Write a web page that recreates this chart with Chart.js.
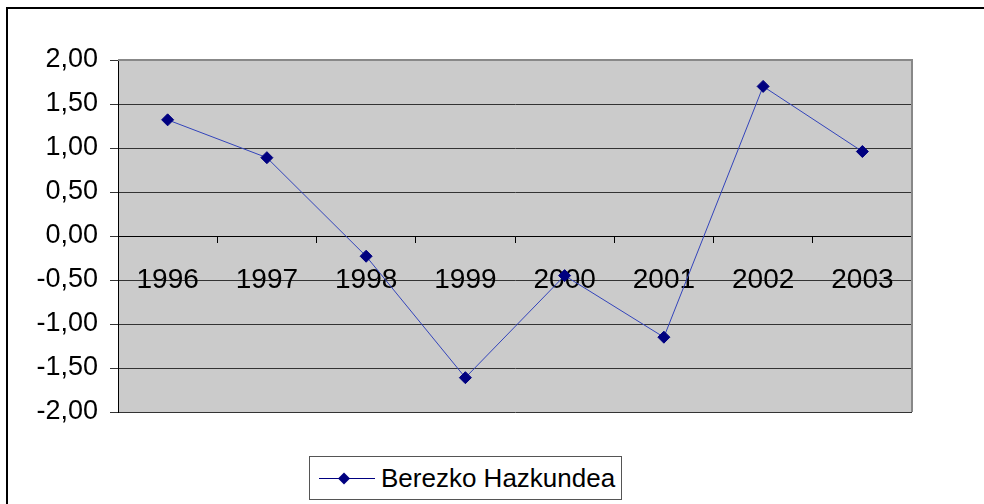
<!DOCTYPE html>
<html>
<head>
<meta charset="utf-8">
<script src="https://cdn.jsdelivr.net/npm/chart.js@4"></script>
<style>
  html, body { margin: 0; padding: 0; background: #fff; }
  #wrap { position: relative; width: 984px; height: 504px; overflow: hidden; }
  #c { position: absolute; left: 0; top: 0; }
  #legend { position: absolute; left: 309px; top: 456px; width: 313px; height: 44px;
    border: 1px solid #555; box-sizing: border-box; background: #fff;
    font-family: Arial, "Liberation Sans", sans-serif; font-size: 26px; color: #000;
    display: flex; align-items: center; }
  #legend canvas { margin-left: 9px; margin-right: 6px; }
</style>
</head>
<body>
<div id="wrap">
  <canvas id="c" width="984" height="504"></canvas>
  <div id="legend"><canvas id="lg" width="56" height="14"></canvas><span id="lgtext"></span></div>
</div>
<script>
const categories = ["1996", "1997", "1998", "1999", "2000", "2001", "2002", "2003"];
const seriesName = "Berezko Hazkundea";
const seriesValues = [1.32, 0.89, -0.23, -1.61, -0.45, -1.15, 1.70, 0.96];
const yTicks = [-2, -1.5, -1, -0.5, 0, 0.5, 1, 1.5, 2];

const FAMILY = 'Arial, "Liberation Sans", sans-serif';
const LINE_COLOR = '#3344bb';
const MARK_COLOR = '#000080';

const framePlugin = {
  id: 'frame',
  beforeDraw(chart) {
    const ctx = chart.ctx, a = chart.chartArea;
    ctx.save();
    ctx.fillStyle = '#000';
    ctx.fillRect(6, 7, 978, 2);
    ctx.fillRect(6, 7, 2, 497);
    ctx.fillStyle = '#cbcbcb';
    ctx.fillRect(a.left, a.top, a.right - a.left, a.bottom - a.top);
    ctx.restore();
  },
  afterDatasetsDraw(chart) {
    const ctx = chart.ctx, a = chart.chartArea;
    ctx.save();
    ctx.strokeStyle = '#888';
    ctx.lineWidth = 2;
    ctx.beginPath();
    ctx.moveTo(a.left, a.top);
    ctx.lineTo(a.right, a.top);
    ctx.lineTo(a.right, a.bottom);
    ctx.stroke();
    ctx.restore();
  }
};

new Chart(document.getElementById('c'), {
  type: 'line',
  data: {
    labels: categories,
    datasets: [{
      label: seriesName,
      data: seriesValues,
      borderColor: LINE_COLOR,
      borderWidth: 1,
      pointStyle: 'rectRot',
      pointRadius: 6,
      pointBackgroundColor: MARK_COLOR,
      pointBorderColor: MARK_COLOR,
      pointBorderWidth: 1,
      tension: 0
    }]
  },
  options: {
    responsive: false,
    animation: false,
    layout: { padding: { left: 0, top: 60, right: 72, bottom: 92 } },
    plugins: { legend: { display: false }, tooltip: { enabled: false } },
    scales: {
      x: {
        type: 'category',
        position: { y: 0 },
        offset: true,
        grid: { display: true, drawOnChartArea: false, drawTicks: true, tickLength: 6, color: '#000', offset: true },
        border: { display: true, color: '#000', width: 1 },
        ticks: { color: '#000', font: { family: FAMILY, size: 28 }, padding: 21, maxRotation: 0, autoSkip: false }
      },
      y: {
        min: -2, max: 2,
        afterBuildTicks(scale) { scale.ticks = yTicks.map(v => ({ value: v })); },
        afterFit(scale) { scale.width = 118; },
        grid: { color: '#333', tickLength: 8, drawTicks: true },
        border: { display: true, color: '#000', width: 1 },
        ticks: { color: '#000', font: { family: FAMILY, size: 27 }, padding: 12,
          callback: v => Number(v).toFixed(2).replace('.', ',') }
      }
    }
  },
  plugins: [framePlugin]
});

// legend
document.getElementById('lgtext').textContent = seriesName;
const lg = document.getElementById('lg').getContext('2d');
lg.strokeStyle = MARK_COLOR; lg.lineWidth = 1;
lg.beginPath(); lg.moveTo(0, 7.5); lg.lineTo(56, 7.5); lg.stroke();
lg.fillStyle = MARK_COLOR;
lg.beginPath(); lg.moveTo(25, 1.5); lg.lineTo(31, 7.5); lg.lineTo(25, 13.5); lg.lineTo(19, 7.5); lg.closePath(); lg.fill();
</script>
</body>
</html>
